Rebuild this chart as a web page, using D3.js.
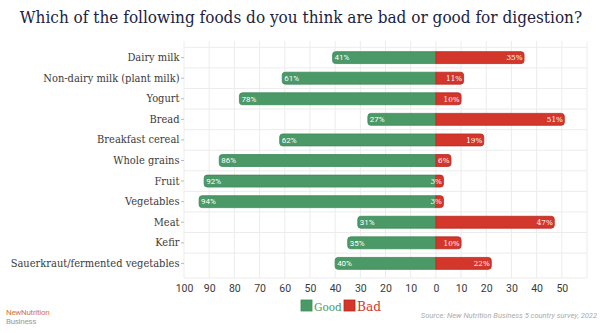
<!DOCTYPE html>
<html>
<head>
<meta charset="utf-8">
<script src="https://cdn.jsdelivr.net/npm/d3@7/dist/d3.min.js"></script>
<style>
  html, body { margin: 0; padding: 0; background: #fff; }
  svg { display: block; }
  .slab { font-family: 'DejaVu Serif Condensed', 'DejaVu Serif', serif; font-stretch: condensed; }
</style>
</head>
<body>
<svg id="chart" width="600" height="333"></svg>
<script>
const categories = [
  "Dairy milk", "Non-dairy milk (plant milk)", "Yogurt", "Bread",
  "Breakfast cereal", "Whole grains", "Fruit", "Vegetables",
  "Meat", "Kefir", "Sauerkraut/fermented vegetables"
];
const goodValues = [41, 61, 78, 27, 62, 86, 92, 94, 31, 35, 40];
const badValues  = [35, 11, 10, 51, 19, 6, 3, 3, 47, 10, 22];
const tickValues = [-100, -90, -80, -70, -60, -50, -40, -30, -20, -10, 0, 10, 20, 30, 40, 50];
const seriesNames = ["Good", "Bad"];

const sans = "Roboto, 'Open Sans', sans-serif";
const green = "#4a9966", greenStroke = "#3d8a58";
const red = "#d3362b", redStroke = "#b82a20";

const svg = d3.select("#chart");
const margin = { top: 43, left: 184, right: 13, bottom: 55 };
const W = 600, H = 333;

const x = d3.scaleLinear().domain([-100, 60]).range([margin.left, W - margin.right]);
const y = d3.scaleBand().domain(categories).range([margin.top, H - margin.bottom]).padding(0.42);

// Shrink a text's font until it fits a width
function fitWidth(sel, target, fs) {
  sel.style("font-size", fs + "px");
  while (sel.node().getComputedTextLength() > target && fs > 6) {
    fs -= 0.2;
    sel.style("font-size", fs + "px");
  }
}

// Title
const title = svg.append("text")
  .attr("class", "slab")
  .attr("x", 301).attr("y", 23)
  .attr("text-anchor", "middle")
  .attr("fill", "#1c2340")
  .text("Which of the following foods do you think are bad or good for digestion?");
fitWidth(title, 568, 19);

// Grid
const grid = svg.append("g");
const gridX = d3.range(-100, 61, 10);
grid.selectAll("line.v").data(gridX).join("line")
  .attr("x1", d => x(d)).attr("x2", d => x(d))
  .attr("y1", margin.top - 2).attr("y2", H - margin.bottom)
  .attr("stroke", "#ececec").attr("stroke-width", 1);
const bounds = categories.map(c => y(c) - (y.step() - y.bandwidth()) / 2);
bounds.push(H - margin.bottom);
grid.selectAll("line.h").data(bounds).join("line")
  .attr("x1", margin.left).attr("x2", W - margin.right)
  .attr("y1", d => d).attr("y2", d => d)
  .attr("stroke", "#ececec").attr("stroke-width", 1);

// Bars with rounded outer ends
function barPath(x0, x1, y0, h, r) {
  const dir = x1 >= x0 ? 1 : -1;
  const len = Math.abs(x1 - x0);
  r = Math.min(r, len, h / 2);
  const p = d3.path();
  p.moveTo(x0, y0);
  p.lineTo(x1 - dir * r, y0);
  p.quadraticCurveTo(x1, y0, x1, y0 + r);
  p.lineTo(x1, y0 + h - r);
  p.quadraticCurveTo(x1, y0 + h, x1 - dir * r, y0 + h);
  p.lineTo(x0, y0 + h);
  p.closePath();
  return p.toString();
}

const rows = categories.map((c, i) => ({ c, good: goodValues[i], bad: badValues[i] }));
const bars = svg.append("g");
bars.selectAll("path.good").data(rows).join("path")
  .attr("d", d => barPath(x(0), x(-d.good), y(d.c), y.bandwidth(), 3))
  .attr("fill", green).attr("stroke", greenStroke).attr("stroke-width", 0.8);
bars.selectAll("path.bad").data(rows).join("path")
  .attr("d", d => barPath(x(0), x(d.bad), y(d.c), y.bandwidth(), 3))
  .attr("fill", red).attr("stroke", redStroke).attr("stroke-width", 0.8);

// Value labels
bars.selectAll("text.good").data(rows).join("text")
  .attr("x", d => x(-d.good) + 2)
  .attr("y", d => y(d.c) + y.bandwidth() / 2)
  .attr("dy", "0.35em")
  .attr("fill", "#fff")
  .style("font-family", sans).style("font-size", "8px")
  .text(d => d.good + "%");
bars.selectAll("text.bad").data(rows).join("text")
  .attr("class", "slab")
  .attr("x", d => x(d.bad) - 1.5)
  .attr("y", d => y(d.c) + y.bandwidth() / 2)
  .attr("dy", "0.35em")
  .attr("text-anchor", "end")
  .attr("fill", "#fff")
  .style("font-size", "8px")
  .text(d => d.bad + "%");

// Y axis
const yAxis = svg.append("g")
  .attr("transform", `translate(${margin.left},0)`)
  .call(d3.axisLeft(y).tickSize(3).tickPadding(1.5));
yAxis.select(".domain").remove();
yAxis.selectAll(".tick line").attr("stroke", "#bbb");
yAxis.selectAll(".tick text")
  .attr("class", "slab")
  .attr("fill", "#3a3a3a")
  .style("font-family", null)
  .style("font-size", "11.5px");
// keep the longest label inside its column
(function () {
  let maxW = 0;
  yAxis.selectAll(".tick text").each(function () { maxW = Math.max(maxW, this.getComputedTextLength()); });
  if (maxW > 169) {
    const fs = 11.5 * 169 / maxW;
    yAxis.selectAll(".tick text").style("font-size", fs + "px");
  }
})();

// X axis
const xAxis = svg.append("g")
  .attr("transform", `translate(0,${H - margin.bottom})`)
  .call(d3.axisBottom(x).tickValues(tickValues).tickFormat(d => Math.abs(d)).tickSize(0).tickPadding(7));
xAxis.select(".domain").remove();
xAxis.selectAll(".tick text")
  .attr("fill", "#3a3a3a")
  .style("font-family", sans).style("font-size", "10.5px");

// Legend
const legend = svg.append("g").attr("transform", "translate(301,300)");
const legendItems = [
  { name: seriesNames[0], fill: green, stroke: greenStroke, dx: 0 },
  { name: seriesNames[1], fill: red, stroke: redStroke, dx: 43 }
];
const li = legend.selectAll("g").data(legendItems).join("g")
  .attr("transform", d => `translate(${d.dx},0)`);
li.append("rect").attr("width", 11).attr("height", 11)
  .attr("fill", d => d.fill).attr("stroke", d => d.stroke).attr("stroke-width", 0.8);
li.append("text").attr("class", "slab").attr("x", 13).attr("y", 10.5)
  .attr("fill", d => d.fill)
  .text(d => d.name);
li.select("text").each(function () { fitWidth(d3.select(this), 28, 13.5); });

// Footer
svg.append("text").attr("x", 6).attr("y", 315)
  .attr("fill", "#d27a45")
  .style("font-family", sans).style("font-size", "8px")
  .style("letter-spacing", "-0.3px")
  .text("NewNutrition");
svg.append("text").attr("x", 6).attr("y", 324)
  .attr("fill", "#9a9a9a")
  .style("font-family", sans).style("font-size", "8px")
  .style("letter-spacing", "-0.3px")
  .text("Business");
svg.append("text").attr("x", 597).attr("y", 318)
  .attr("text-anchor", "end")
  .attr("fill", "#aaa")
  .style("font-family", sans).style("font-size", "7.5px").style("font-style", "italic")
  .text("Source: New Nutrition Business 5 country survey, 2022");
</script>
</body>
</html>
